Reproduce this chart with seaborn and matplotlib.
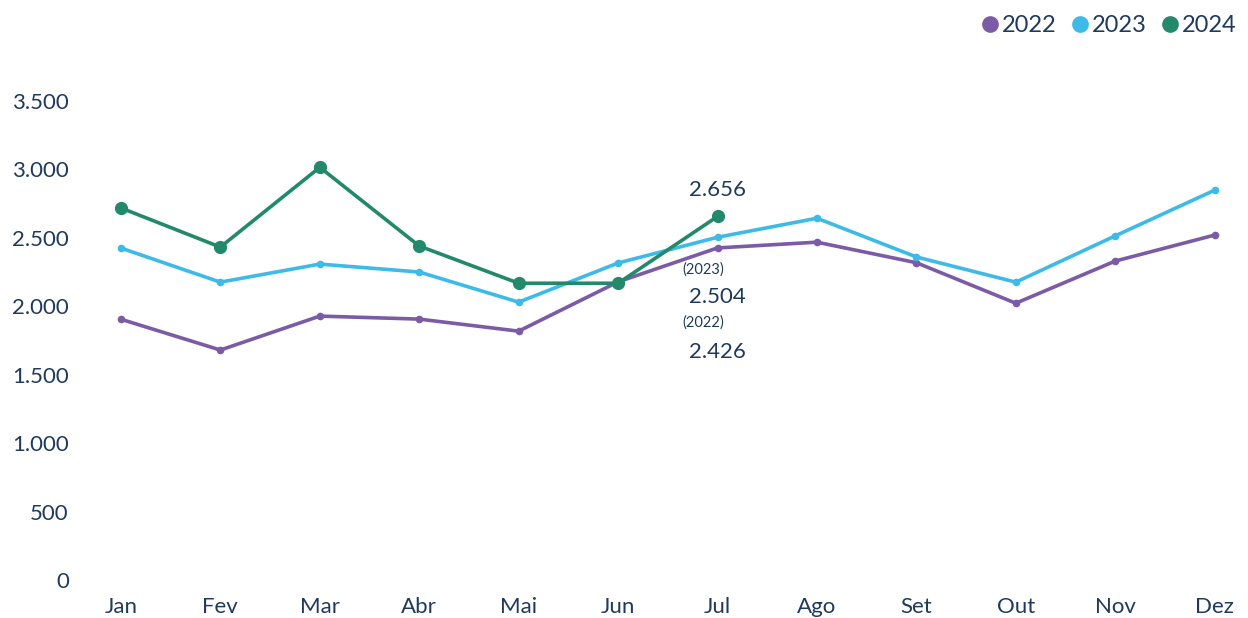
import pandas as pd
import matplotlib.pyplot as plt
import seaborn as sns
from matplotlib.lines import Line2D
from matplotlib.ticker import FuncFormatter

months = ["Jan", "Fev", "Mar", "Abr", "Mai", "Jun", "Jul", "Ago", "Set", "Out", "Nov", "Dez"]
v2022 = [1905, 1680, 1928, 1906, 1818, 2178, 2426, 2468, 2318, 2022, 2330, 2520]
v2023 = [2425, 2176, 2308, 2250, 2030, 2316, 2504, 2643, 2360, 2176, 2514, 2848]
v2024 = [2718, 2432, 3015, 2440, 2168, 2168, 2656]

colors = {"2022": "#7B5BA6", "2023": "#3DBAE8", "2024": "#22896A"}
text_color = "#1F3A5C"

rows = []
for year, vals in [("2022", v2022), ("2023", v2023), ("2024", v2024)]:
    for i, v in enumerate(vals):
        rows.append({"pos": i, "valor": v, "ano": year})
df = pd.DataFrame(rows)

sns.set_style("white")
plt.rcParams['font.family'] = ['Lato', 'DejaVu Sans']

fig = plt.figure(figsize=(12.48, 6.18), dpi=100)
ax = fig.add_axes([0.064, 0.0615, 0.93, 0.8195])

for year in ["2022", "2023"]:
    sns.lineplot(data=df[df["ano"] == year], x="pos", y="valor", color=colors[year],
                 marker="o", markersize=5.5, markeredgewidth=0, linewidth=2.6, ax=ax)
sns.lineplot(data=df[df["ano"] == "2024"], x="pos", y="valor", color=colors["2024"],
             marker="o", markersize=9.5, markeredgewidth=0, linewidth=2.6, ax=ax)

ax.set_xlim(-0.413, 11.26)
ax.set_ylim(0, 3700)
ax.set_xticks(range(12))
ax.set_xticklabels(months)
ax.set_yticks(range(0, 3501, 500))
ax.yaxis.set_major_formatter(FuncFormatter(lambda v, p: f"{int(v):,}".replace(",", ".")))
ax.tick_params(axis="both", length=0, labelsize=16, colors=text_color)
ax.tick_params(axis="x", pad=12)
ax.tick_params(axis="y", pad=8)
ax.set_xlabel("")
ax.set_ylabel("")
sns.despine(ax=ax, left=True, bottom=True)
ax.grid(False)

# data labels at Jul
ax.text(6, 2850, "2.656", ha="center", va="center", fontsize=16, color=text_color)
ax.text(5.86, 2265, "(2023)", ha="center", va="center", fontsize=10.5, color=text_color)
ax.text(6, 2068, "2.504", ha="center", va="center", fontsize=16, color=text_color)
ax.text(5.86, 1878, "(2022)", ha="center", va="center", fontsize=10.5, color=text_color)
ax.text(6, 1666, "2.426", ha="center", va="center", fontsize=16, color=text_color)

handles = [Line2D([], [], marker="o", linestyle="", color=colors[y], markersize=11) for y in colors]
fig.legend(handles, list(colors.keys()), loc="upper right", bbox_to_anchor=(1.008, 1.01),
           ncol=3, frameon=False, fontsize=17, handletextpad=-0.5, columnspacing=0.0,
           labelcolor=text_color)

fig.savefig("out.png", dpi=100)
